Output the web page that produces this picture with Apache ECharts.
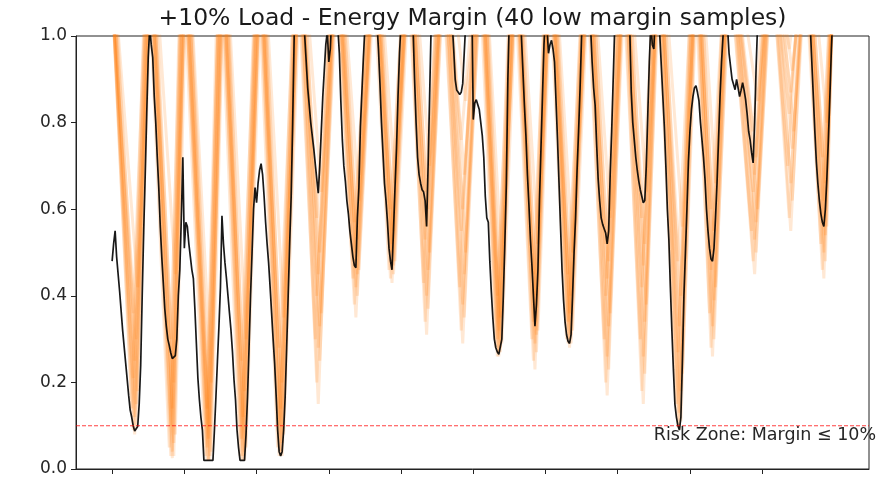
<!DOCTYPE html>
<html>
<head>
<meta charset="utf-8">
<script src="https://cdn.jsdelivr.net/npm/echarts@6/dist/echarts.min.js"></script>
<style>
  html, body { margin: 0; padding: 0; background: #fff; }
  #chart { width: 879px; height: 481px; }
</style>
</head>
<body>
<div id="chart"></div>
<script>
// ---- Data -----------------------------------------------------------------
const TITLE = '+10% Load - Energy Margin (40 low margin samples)';
const RISK_LEVEL = 0.1;
const RISK_TEXT = 'Risk Zone: Margin \u2264 10%';
const RISK_LABEL_AT = [360, 0.077];          // [hour, margin] anchor of the label
const X_RANGE = [-24, 503];                  // hour axis limits
const X_TICK_HOURS = [0, 48, 96, 144, 192, 240, 288, 336, 384, 432];
const Y_TICKS = [0, 0.2, 0.4, 0.6, 0.8, 1.0];

// Reference trajectory: [hour, energy margin]
const baseMargin = [
  [0,0.48],[1,0.52],[2,0.55],[3,0.49],[5,0.41],[7,0.32],[9,0.245],[11,0.17],[12,0.136],[13,0.12],[14,0.10],
  [15,0.088],[16,0.085],[17,0.098],[18,0.15],[19,0.24],[20,0.40],[21,0.55],[22,0.68],[23,0.82],[24,0.95],
  [25,1.02],[26,0.98],[27,0.95],[28,0.86],[29,0.80],[30,0.72],[31,0.65],[32,0.56],[33,0.49],[34,0.43],
  [35,0.37],[36,0.33],[37,0.30],[38,0.285],[39,0.268],[40,0.255],[41,0.252],[42,0.262],[43,0.30],[44,0.40],
  [45,0.46],[46,0.58],[47,0.72],[48,0.51],[49,0.57],[50,0.56],[51,0.52],[52,0.49],[53,0.46],[54,0.44],
  [55,0.37],[56,0.29],[57,0.21],[58,0.16],[59,0.12],[60,0.09],[61,0.02],[67,0.02],[68,0.09],[69,0.167],
  [70,0.25],[71,0.33],[72,0.42],[73,0.585],[74,0.52],[75,0.476],[76,0.44],[77,0.40],[78,0.36],[79,0.32],
  [80,0.27],[81,0.206],[82,0.16],[83,0.09],[84,0.05],[85,0.02],[88,0.02],[89,0.08],[90,0.167],[91,0.28],
  [92,0.40],[93,0.50],[94,0.60],[95,0.65],[96,0.615],[97,0.66],[98,0.69],[99,0.705],[100,0.68],[101,0.63],
  [102,0.57],[103,0.52],[104,0.476],[105,0.42],[106,0.36],[107,0.30],[108,0.244],[109,0.17],[110,0.09],
  [111,0.04],[112,0.03],[113,0.04],[114,0.09],[115,0.167],[116,0.28],[117,0.40],[118,0.52],[119,0.63],
  [120,0.80],[121,1.0],[124,1.15],[128,1.0],[130,0.88],[132,0.80],[134,0.74],[136,0.67],[137,0.637],
  [138,0.70],[139,0.78],[140,0.86],[141,0.92],[142,0.98],[143,1.01],[144,0.94],[145,0.97],[146,1.05],
  [148,1.15],[150,1.02],[151,0.96],[152,0.85],[153,0.76],[154,0.70],[155,0.665],[156,0.62],[157,0.59],
  [158,0.55],[159,0.52],[160,0.49],[161,0.47],[162,0.465],[163,0.58],[164,0.65],[165,0.79],[166,0.87],
  [167,0.95],[168,1.02],[172,1.15],[176,1.03],[177,0.97],[178,0.89],[179,0.80],[180,0.73],[181,0.66],
  [182,0.62],[183,0.57],[184,0.51],[185,0.48],[186,0.46],[187,0.55],[188,0.65],[189,0.74],[190,0.86],
  [191,0.96],[192,1.03],[196,1.15],[200,1.02],[201,0.90],[202,0.80],[203,0.72],[204,0.68],[205,0.66],
  [206,0.645],[207,0.64],[208,0.62],[209,0.56],[210,0.70],[211,0.86],[212,1.02],[219,1.15],[226,1.03],
  [227,0.97],[228,0.90],[229,0.875],[230,0.87],[231,0.865],[232,0.87],[233,0.89],[234,0.96],[235,1.03],
  [237,1.10],[239,1.10],[240,0.807],[241,0.845],[242,0.853],[243,0.853],[244,0.83],[245,0.80],[246,0.77],
  [247,0.72],[248,0.63],[249,0.58],[250,0.57],[251,0.48],[252,0.41],[253,0.35],[254,0.30],[255,0.28],
  [256,0.27],[257,0.265],[258,0.262],[259,0.30],[260,0.40],[261,0.52],[262,0.66],[263,0.90],[264,1.05],
  [268,1.15],[272,1.0],[273,0.92],[274,0.84],[275,0.77],[276,0.68],[277,0.61],[278,0.53],[279,0.47],
  [280,0.40],[281,0.33],[282,0.38],[283,0.46],[284,0.62],[285,0.74],[286,0.86],[287,0.98],[288,1.05],
  [289,1.02],[290,0.96],[291,0.98],[292,0.99],[293,0.97],[294,0.94],[295,0.85],[296,0.76],[297,0.66],
  [298,0.56],[299,0.46],[300,0.39],[301,0.34],[302,0.31],[303,0.295],[304,0.29],[305,0.31],[306,0.40],
  [307,0.50],[308,0.58],[309,0.69],[310,0.78],[311,0.88],[312,1.0],[313,1.05],[316,1.15],[318,1.02],
  [319,0.94],[320,0.88],[321,0.84],[322,0.75],[323,0.67],[324,0.62],[325,0.58],[326,0.565],[327,0.555],
  [328,0.545],[329,0.52],[330,0.55],[331,0.68],[332,0.78],[333,0.90],[334,1.02],[339,1.15],[344,1.02],
  [345,0.87],[346,0.80],[347,0.76],[348,0.72],[349,0.69],[350,0.665],[351,0.645],[352,0.63],[353,0.615],
  [354,0.62],[355,0.70],[356,0.82],[357,0.94],[358,1.03],[359,0.98],[360,0.97],[361,1.05],[362,1.10],
  [364,1.0],[365,0.93],[366,0.86],[367,0.79],[368,0.70],[369,0.60],[370,0.53],[371,0.42],[372,0.32],
  [373,0.23],[374,0.15],[375,0.12],[376,0.10],[377,0.09],[378,0.12],[379,0.25],[380,0.40],[381,0.50],
  [382,0.60],[383,0.71],[384,0.78],[385,0.83],[386,0.86],[387,0.88],[388,0.885],[389,0.87],[390,0.85],
  [391,0.80],[392,0.76],[393,0.72],[394,0.67],[395,0.60],[396,0.55],[397,0.51],[398,0.485],[399,0.48],
  [400,0.51],[401,0.58],[402,0.66],[403,0.76],[404,0.86],[405,0.94],[406,1.0],[407,1.05],[408,1.08],
  [409,1.02],[410,0.96],[411,0.93],[412,0.90],[413,0.90],[414,0.876],[415,0.90],[416,0.88],[417,0.86],
  [418,0.875],[419,0.892],[420,0.875],[421,0.853],[422,0.82],[423,0.78],[424,0.76],[425,0.73],[426,0.707],
  [427,0.80],[428,0.93],[429,1.03],[446,1.15],[464,1.02],[465,0.94],[466,0.86],[467,0.78],[468,0.71],
  [469,0.66],[470,0.62],[471,0.59],[472,0.57],[473,0.56],[474,0.60],[475,0.67],[476,0.76],[477,0.86],
  [478,0.97],[479,1.05]
];

// Low-margin samples: daily peaks (clipped above 1.0) and daily troughs
const peakHours   = [0, 25, 48, 73, 98, 124, 149, 174, 197, 220, 245, 268, 291, 316, 340, 363, 388, 410, 438, 461, 479];
const peakLevels  = [1.1, 1.25, 1.25, 1.25, 1.25, 1.25, 1.25, 1.25, 1.25, 1.25, 1.25, 1.25, 1.25, 1.25, 1.25, 1.25, 1.25, 1.25, 1.25, 1.25, 1.1];
const troughHours = [15, 40, 64, 87, 112, 137, 162, 186, 209, 233, 257, 281, 304, 329, 353, 377, 399, 427, 451, 473];
const sampleLag   = [0, -1, 1, 0, -2, 1, 2, -1, 0, 1, -1, 2];
// one row per day, one column per sample
const dayTroughs = [
  [0.08, 0.09, 0.10, 0.12, 0.14, 0.15, 0.18, 0.21, 0.25, 0.30, 0.36, 0.42],
  [0.025, 0.03, 0.03, 0.04, 0.05, 0.06, 0.08, 0.10, 0.14, 0.20, 0.30, 0.45],
  [0.02, 0.02, 0.02, 0.02, 0.03, 0.03, 0.04, 0.05, 0.07, 0.10, 0.14, 0.20],
  [0.02, 0.02, 0.02, 0.03, 0.03, 0.04, 0.05, 0.07, 0.12, 0.18, 0.25, 0.30],
  [0.03, 0.03, 0.03, 0.04, 0.05, 0.06, 0.08, 0.10, 0.14, 0.20, 0.28, 0.35],
  [0.15, 0.20, 0.25, 0.28, 0.30, 0.33, 0.36, 0.40, 0.45, 0.50, 0.58, 0.64],
  [0.35, 0.38, 0.40, 0.42, 0.44, 0.45, 0.46, 0.48, 0.50, 0.53, 0.57, 0.62],
  [0.43, 0.44, 0.45, 0.46, 0.46, 0.47, 0.48, 0.50, 0.52, 0.55, 0.60, 0.66],
  [0.31, 0.34, 0.37, 0.40, 0.43, 0.46, 0.50, 0.53, 0.56, 0.60, 0.64, 0.70],
  [0.29, 0.32, 0.35, 0.38, 0.42, 0.45, 0.50, 0.55, 0.60, 0.68, 0.76, 0.85],
  [0.26, 0.26, 0.27, 0.27, 0.28, 0.28, 0.29, 0.30, 0.32, 0.35, 0.40, 0.46],
  [0.23, 0.25, 0.27, 0.29, 0.30, 0.31, 0.32, 0.34, 0.37, 0.40, 0.45, 0.52],
  [0.28, 0.29, 0.29, 0.30, 0.30, 0.31, 0.32, 0.34, 0.36, 0.40, 0.45, 0.50],
  [0.17, 0.20, 0.23, 0.26, 0.30, 0.33, 0.36, 0.40, 0.44, 0.48, 0.52, 0.58],
  [0.15, 0.18, 0.22, 0.26, 0.30, 0.34, 0.38, 0.42, 0.47, 0.52, 0.58, 0.64],
  [0.09, 0.10, 0.11, 0.13, 0.15, 0.18, 0.22, 0.27, 0.33, 0.40, 0.48, 0.56],
  [0.26, 0.28, 0.30, 0.33, 0.36, 0.39, 0.42, 0.46, 0.50, 0.55, 0.60, 0.66],
  [0.45, 0.48, 0.50, 0.53, 0.55, 0.57, 0.60, 0.64, 0.68, 0.72, 0.78, 0.85],
  [0.55, 0.58, 0.62, 0.66, 0.70, 0.74, 0.78, 0.82, 0.87, 0.92, 0.97, 1.02],
  [0.44, 0.46, 0.48, 0.50, 0.52, 0.54, 0.56, 0.58, 0.62, 0.66, 0.72, 0.80]
];

// ---- Build series ---------------------------------------------------------
const LAST_HOUR = peakHours[peakHours.length - 1];
const RISK_RED = '#ff0000';

function samplePath(s) {
  const pts = [];
  const lag = sampleLag[s];
  for (let d = 0; d < peakHours.length; d++) {
    const h = Math.min(LAST_HOUR, Math.max(0, peakHours[d] + lag));
    pts.push([h, peakLevels[d]]);
    if (d < troughHours.length) {
      pts.push([troughHours[d] + lag, dayTroughs[d][s]]);
    }
  }
  return pts;
}

const series = [];
for (let s = 0; s < sampleLag.length; s++) {
  series.push({
    type: 'line',
    data: samplePath(s),
    showSymbol: false,
    silent: true,
    clip: true,
    z: 1,
    lineStyle: { color: '#ff7f0e', width: 3, opacity: 0.18 },
    emphasis: { disabled: true }
  });
}

// reference trajectory
series.push({
  type: 'line',
  data: baseMargin,
  showSymbol: false,
  silent: true,
  clip: true,
  z: 3,
  color: '#000000',
  lineStyle: { color: '#000000', width: 1.7, opacity: 0.9 },
  emphasis: { disabled: true }
});

// risk threshold across the whole hour axis, with its caption
series.push({
  type: 'line',
  data: [[X_RANGE[0], RISK_LEVEL], [X_RANGE[1], RISK_LEVEL]],
  showSymbol: false,
  silent: true,
  clip: false,
  z: 4,
  color: RISK_RED,
  lineStyle: { color: RISK_RED, type: [4, 2], width: 1.1, opacity: 0.75 },
  emphasis: { disabled: true },
  markPoint: {
    silent: true,
    symbol: 'circle',
    symbolSize: 0,
    animation: false,
    itemStyle: { color: 'rgba(0,0,0,0)' },
    label: {
      show: true,
      position: 'right',
      distance: 0,
      formatter: RISK_TEXT,
      color: '#262626',
      fontSize: 17.5,
      fontFamily: 'DejaVu Sans'
    },
    data: [{ coord: RISK_LABEL_AT }]
  }
});

const chart = echarts.init(document.getElementById('chart'), null, { renderer: 'canvas' });

chart.setOption({
  animation: false,
  backgroundColor: '#ffffff',
  grid: {
    left: 76, right: 10, top: 36, bottom: 12,
    show: true, borderColor: '#222', borderWidth: 1, backgroundColor: 'transparent'
  },
  graphic: [{
    type: 'text',
    x: 472.5,
    y: 19,
    style: {
      text: TITLE,
      fill: '#1a1a1a',
      font: '23.5px "DejaVu Sans"',
      textAlign: 'center',
      textVerticalAlign: 'middle'
    }
  }],
  xAxis: {
    type: 'value',
    min: X_RANGE[0],
    max: X_RANGE[1],
    axisLine: { show: true, onZero: false, lineStyle: { color: '#222', width: 1 } },
    axisTick: { show: true, length: 5, customValues: X_TICK_HOURS, lineStyle: { color: '#222' } },
    axisLabel: { show: false },
    splitLine: { show: false }
  },
  yAxis: {
    type: 'value',
    min: 0,
    max: 1,
    interval: 0.2,
    axisLine: { show: true, onZero: false, lineStyle: { color: '#222', width: 1 } },
    axisTick: { show: true, length: 5, lineStyle: { color: '#222' } },
    axisLabel: {
      customValues: Y_TICKS,
      formatter: v => v.toFixed(1),
      fontSize: 17,
      fontFamily: 'DejaVu Sans',
      color: '#262626',
      margin: 9
    },
    splitLine: { show: false }
  },
  series: series
});
</script>
</body>
</html>
